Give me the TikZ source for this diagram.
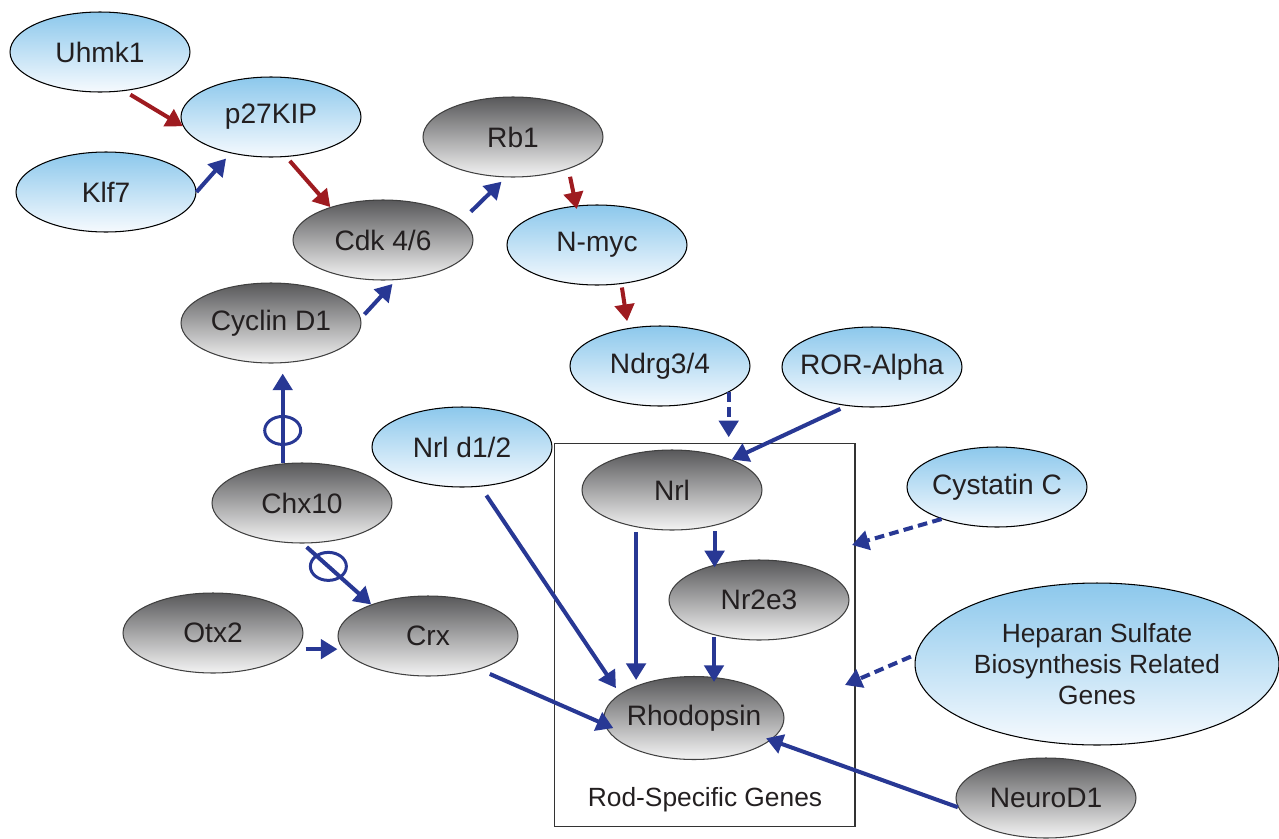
\documentclass[tikz,border=0pt]{standalone}
\usepackage{fontspec}
\setmainfont{Liberation Sans}
\usetikzlibrary{arrows.meta}
\usetikzlibrary{shapes.geometric}
\definecolor{actred}{RGB}{158,27,32}
\definecolor{actblue}{RGB}{40,56,148}
\definecolor{skytop}{RGB}{140,200,236}
\definecolor{skybot}{RGB}{246,250,254}
\definecolor{greytop}{RGB}{88,88,90}
\definecolor{greybot}{RGB}{244,244,244}
\definecolor{inkgrey}{RGB}{35,31,32}

\begin{document}
\begin{tikzpicture}[x=0.02cm, y=-0.02cm,
 gene/.style={ellipse, minimum width=3.6cm, minimum height=1.6cm, inner xsep=-12pt, inner ysep=0pt, text=inkgrey, font=\fontsize{16}{19}\selectfont, align=center},
 lightgene/.style={gene, draw=black, line width=0.6pt, top color=skytop, bottom color=skybot},
 darkgene/.style={gene, draw=black!75, line width=0.6pt, top color=greytop, bottom color=greybot},
 link/.style={line width=2.3pt, -{Triangle[length=9.5pt,width=11pt]}, shorten <=3pt},
 upreg/.style={link, actblue},
 downreg/.style={link, actred},
 maybe/.style={upreg, dash pattern=on 5.5pt off 3pt},
 blocker/.style={draw=actblue, ellipse, line width=1.7pt, minimum width=0.72cm, minimum height=0.56cm, inner sep=0pt}]
\useasboundingbox (0,0) rectangle (1279,839);

% rod box
\node[draw=black!80, line width=0.6pt, minimum width=6.02cm, minimum height=7.68cm, inner sep=0pt] (rodbox) at (704.5,635) {};
\node[font=\fontsize{15}{18}\selectfont, text=inkgrey] (rodlabel) at (705,800) {Rod-Specific Genes};

% genes
\node[lightgene] (uhmk) at (100,52) {Uhmk1};
\node[lightgene] (ptkip) at (271,117) {p27KIP};
\node[lightgene] (klf) at (106,192) {Klf7};
\node[darkgene] (rbone) at (513,137) {Rb1};
\node[darkgene] (cdk) at (383,240) {Cdk 4/6};
\node[lightgene] (nmyc) at (597,245) {N-myc};
\node[darkgene] (cyclin) at (271,323) {Cyclin D1};
\node[lightgene] (ndrg) at (660,366) {Ndrg3/4};
\node[lightgene] (ror) at (872,367) {ROR-Alpha};
\node[lightgene] (nrld) at (462,447) {Nrl d1/2};
\node[darkgene] (chx) at (302,503) {Chx10};
\node[darkgene] (nrl) at (672,490) {Nrl};
\node[lightgene] (cystatin) at (997,487) {Cystatin C};
\node[darkgene] (nrtwo) at (759,600) {Nr2e3};
\node[darkgene] (otx) at (213,633) {Otx2};
\node[darkgene] (crx) at (428,636) {Crx};
\node[lightgene, minimum width=7.28cm, minimum height=3.24cm, font=\fontsize{15}{17.6}\selectfont] (heparan) at (1097,664) {Heparan Sulfate\\Biosynthesis Related\\Genes};
\node[darkgene, minimum height=1.66cm] (rhod) at (694,718) {Rhodopsin};
\node[darkgene] (neuro) at (1046,798) {NeuroD1};

\coordinate (cysin) at (852,545);
\coordinate (hepin) at (845,685);

% cell cycle arm
\draw[downreg, shorten <=4pt] (uhmk.-58) -- (ptkip.186);
\draw[upreg, shorten <=0pt, shorten >=4pt] (klf.east) -- (ptkip.222);
\draw[downreg] (ptkip.-69) -- (cdk.148);
\draw[upreg, shorten <=7pt, shorten >=3.5pt] (cdk.14) -- (rbone.260);
\draw[downreg, shorten <=4.5pt, shorten >=-2pt] (rbone.-30) -- (nmyc.118);
\draw[downreg, shorten <=2pt, shorten >=4pt] (nmyc.-58) -- (ndrg.130);
\draw[upreg, shorten >=3pt] (cyclin.3) -- (cdk.288);
\draw[upreg, shorten <=0pt, shorten >=5.7pt] (chx.116) -- (chx.116 |- cyclin.south) node[blocker, pos=0.33] (ringa) {};
\draw[upreg] (chx.-89) -- (crx.151) node[blocker, pos=0.375] (ringb) {};
\draw[upreg, shorten <=5.4pt] (otx.-11) -- (otx.-11 -| crx.west);

% into rhodopsin
\draw[upreg, shorten <=6.5pt, shorten >=-5.5pt] (crx.-33) -- (rhod.184);
\draw[upreg, shorten <=6pt, shorten >=4pt] (nrld.-65) -- (rhod.162);
\draw[maybe, shorten <=0pt, shorten >=3pt] (ndrg.-21) -- (ndrg.-21 |- rodbox.north);
\draw[upreg, shorten <=4pt] (ror.237) -- (nrl.27);
\draw[upreg, shorten >=-4.5pt] (nrl.-40) -- (nrl.-40 |- nrtwo.north);
\draw[upreg, shorten >=-2.3pt] (nrl.226) -- (nrl.226 |- rhod.north);
\draw[upreg, shorten <=1pt, shorten >=-3.4pt] (nrtwo.218) -- (nrtwo.218 |- rhod.north);
\draw[maybe, shorten <=0pt] (cystatin.210) -- (cysin);
\draw[maybe] (heparan.177) -- (hepin);
\draw[upreg, shorten <=0pt, shorten >=-3pt] (neuro.186) -- (rhod.-16);
\end{tikzpicture}
\end{document}
